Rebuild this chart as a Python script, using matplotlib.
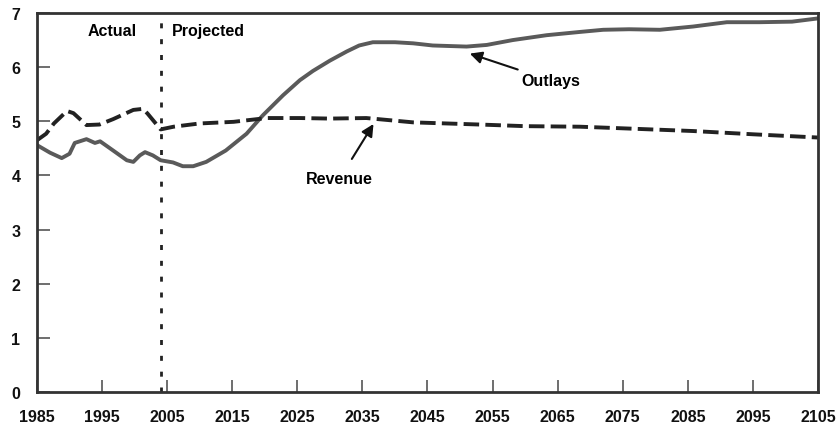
import matplotlib
matplotlib.use("Agg")
import matplotlib.pyplot as plt

outlay_years = [1985, 1987, 1988.8, 1990, 1990.8, 1992.6, 1993.9, 1994.7, 1996.7, 1998.8,
                1999.8, 2000.8, 2001.6, 2002.8, 2004, 2005.9, 2007.4, 2009, 2011, 2014,
                2017.2, 2019.7, 2022.8, 2025.4, 2027.4, 2030, 2032.6, 2034.5, 2036.6, 2040,
                2042.8, 2045.8, 2051, 2054.1, 2058.1, 2063.3, 2068.4, 2072, 2076, 2080.7,
                2085.8, 2091, 2096, 2101, 2105]
outlay_vals = [4.56, 4.42, 4.32, 4.40, 4.60, 4.67, 4.60, 4.63, 4.46, 4.28,
               4.25, 4.37, 4.43, 4.37, 4.28, 4.24, 4.17, 4.17, 4.25, 4.46,
               4.77, 5.11, 5.48, 5.76, 5.93, 6.12, 6.29, 6.40, 6.46, 6.46,
               6.44, 6.40, 6.38, 6.41, 6.50, 6.59, 6.65, 6.69, 6.70, 6.69,
               6.75, 6.83, 6.83, 6.84, 6.90]

rev_years = [1985, 1986.4, 1987.6, 1989.6, 1990.6, 1992.6, 1994.6, 1996.7, 1999.8, 2001.3,
             2002, 2004, 2006, 2010, 2015.2, 2020.3, 2025.4, 2030, 2035.6, 2042.8,
             2053, 2060, 2068.4, 2075, 2085.8, 2095, 2105]
rev_vals = [4.65, 4.77, 4.96, 5.19, 5.15, 4.93, 4.94, 5.04, 5.21, 5.23,
            5.14, 4.85, 4.90, 4.96, 4.99, 5.06, 5.06, 5.05, 5.06, 4.98,
            4.94, 4.91, 4.90, 4.87, 4.82, 4.76, 4.70]

x_ticks = list(range(1985, 2106, 10))
y_ticks = list(range(0, 8))
divider_year = 2004

plt.rcParams['font.family'] = ['Liberation Sans', 'DejaVu Sans']
FS = 11.5

fig = plt.figure(figsize=(8.4, 4.27), dpi=100)
ax = fig.add_axes([37/840, 1 - 393/427, (818-37)/840, (393-14)/427])

ax.plot(outlay_years, outlay_vals, color='#5a5a5a', lw=2.8, solid_capstyle='round',
        solid_joinstyle='round')
ax.plot(rev_years, rev_vals, color='#222222', lw=2.8, dashes=(4, 1.6))
ax.axvline(divider_year, color='#222222', lw=2.0, dashes=(1.8, 3.9))

ax.set_xlim(1985, 2105)
ax.set_ylim(0, 7)
ax.set_xticks(x_ticks)
ax.set_yticks(y_ticks)
ax.tick_params(direction='in', length=9, width=1.2, colors='#555555',
               labelcolor='#111111', labelsize=FS)
ax.tick_params(axis='x', pad=12)
ax.tick_params(axis='y', pad=12)
for lab in ax.get_xticklabels() + ax.get_yticklabels():
    lab.set_fontweight('bold')
for s in ax.spines.values():
    s.set_linewidth(2.0)
    s.set_color('#333333')

ax.text(1996.5, 6.67, 'Actual', ha='center', va='center', fontsize=FS, fontweight='bold')
ax.text(2005.8, 6.67, 'Projected', ha='left', va='center', fontsize=FS, fontweight='bold')

ax.annotate('Outlays', xy=(2051.5, 6.25), xytext=(2059.5, 5.75), fontsize=FS,
            fontweight='bold', ha='left', va='center',
            arrowprops=dict(arrowstyle='-|>', color='#111111', lw=1.5,
                            mutation_scale=18, shrinkA=2, shrinkB=0))
ax.annotate('Revenue', xy=(2036.7, 4.95), xytext=(2031.5, 3.94), fontsize=FS,
            fontweight='bold', ha='center', va='center',
            arrowprops=dict(arrowstyle='-|>', color='#111111', lw=1.5,
                            mutation_scale=18, shrinkA=8, shrinkB=0))

fig.savefig('out.png', dpi=100)
